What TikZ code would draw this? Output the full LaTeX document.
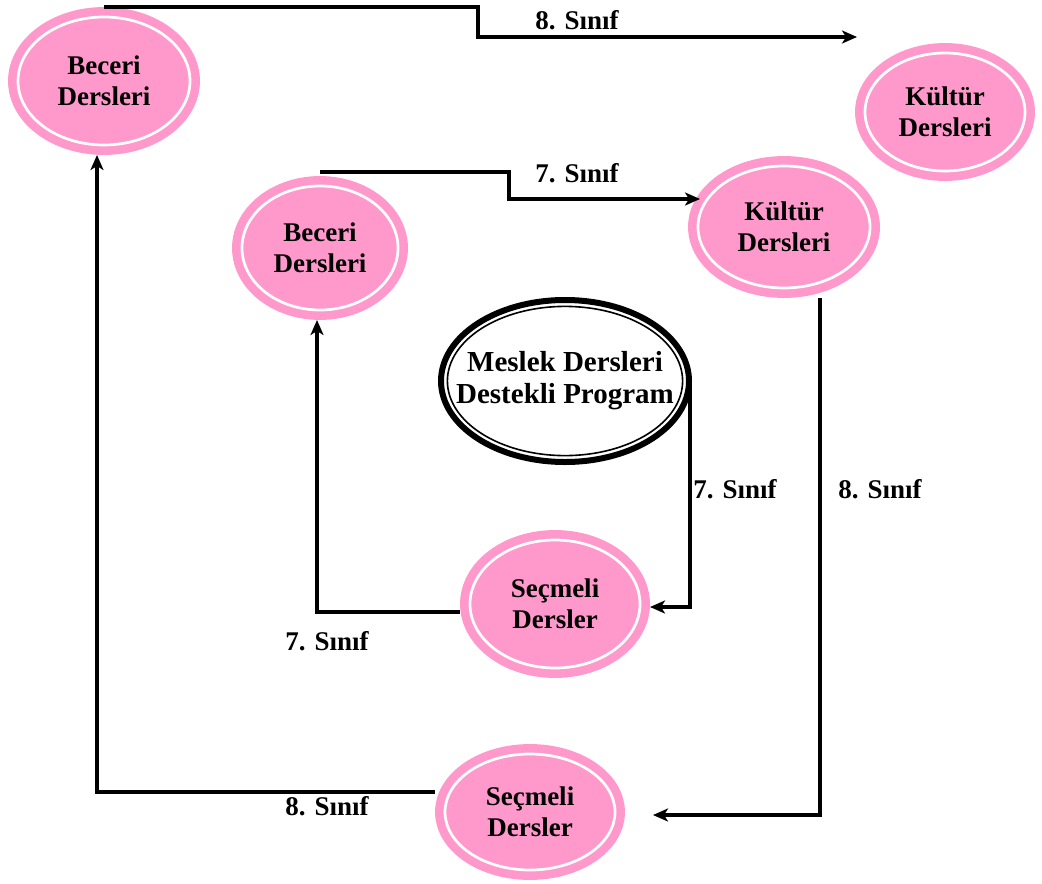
\documentclass[tikz,border=0pt]{standalone}
\usepackage{fontspec}
\setmainfont{Liberation Serif}
\usetikzlibrary{shapes.geometric,arrows.meta}

\definecolor{dersPink}{HTML}{FF99CC}

\tikzset{
  ders/.style={ellipse, fill=dersPink, draw=dersPink, double=white,
    double distance=1.35pt, line width=4.3pt, outer sep=5pt, inner sep=0pt,
    align=center, font=\fontsize{13.5}{15.5}\selectfont\bfseries},
  sinif/.style={font=\fontsize{13.5}{15.5}\selectfont\bfseries},
  link/.style={->, line width=1.6pt, draw=black}
}

\begin{document}
\begin{tikzpicture}[x=0.5pt, y=-0.5pt, >={Stealth[length=7.5pt,width=6.5pt,inset=2pt]}]

\useasboundingbox (0,0) rectangle (1042,883);

% ============================
% Ellipses
% ============================
\node[ders, minimum width=86pt,  minimum height=64pt] (bec8) at (104,81)  {Beceri\\Dersleri};
\node[ders, minimum width=80pt,  minimum height=59pt] (kul8) at (945,112) {Kültür\\Dersleri};
\node[ders, minimum width=78pt,  minimum height=62pt] (bec7) at (320,248) {Beceri\\Dersleri};
\node[ders, minimum width=86pt,  minimum height=61pt] (kul7) at (784,227) {Kültür\\Dersleri};
\node[ders, minimum width=85pt,  minimum height=64pt] (sec7) at (555,604) {Seçmeli\\Dersler};
\node[ders, minimum width=85pt,  minimum height=58pt] (sec8) at (530,812) {Seçmeli\\Dersler};

% Meslek ellipse (thick ring + thin inner ring)
\node[ellipse, draw, line width=3pt, minimum width=124pt, minimum height=81pt,
      inner xsep=-16pt, inner ysep=0pt, outer sep=1.5pt, align=center,
      font=\fontsize{14.5}{16}\selectfont\bfseries]
      (mdp) at (565,381) {Meslek Dersleri\\Destekli Program};
\draw[line width=0.8pt] (mdp.center) ellipse [x radius=58.8pt, y radius=37.3pt];

% ============================
% Ports
% ============================
\coordinate (k8in) at (857,37);
\coordinate (k7in) at (700,199);
\coordinate (s8in) at (653,815);

% ============================
% 8. Sinif loop
% ============================
\draw[link] (bec8.north) -| (478,37) -- (k8in);
\node[sinif] at (577,20) {8. Sınıf};

\draw[link] ([xshift=18pt]kul7.south) |- (s8in);
\node[sinif] at (880,489) {8. Sınıf};

\draw[link] ([yshift=10pt]sec8.west) -| ([xshift=-3.5pt]bec8.south);
\node[sinif] at (327,806) {8. Sınıf};

% ============================
% 7. Sinif loop
% ============================
\draw[link] ([yshift=2pt]bec7.north) -| (509,199) -- (k7in);
\node[sinif] at (577,173) {7. Sınıf};

\draw[link] ([xshift=-1pt]mdp.east) |- ([yshift=-1.5pt]sec7.east);
\node[sinif] at (735,489) {7. Sınıf};

\draw[link] ([yshift=-4pt]sec7.west) -| ([xshift=-1.5pt]bec7.south);
\node[sinif] at (327,641) {7. Sınıf};

\end{tikzpicture}
\end{document}
